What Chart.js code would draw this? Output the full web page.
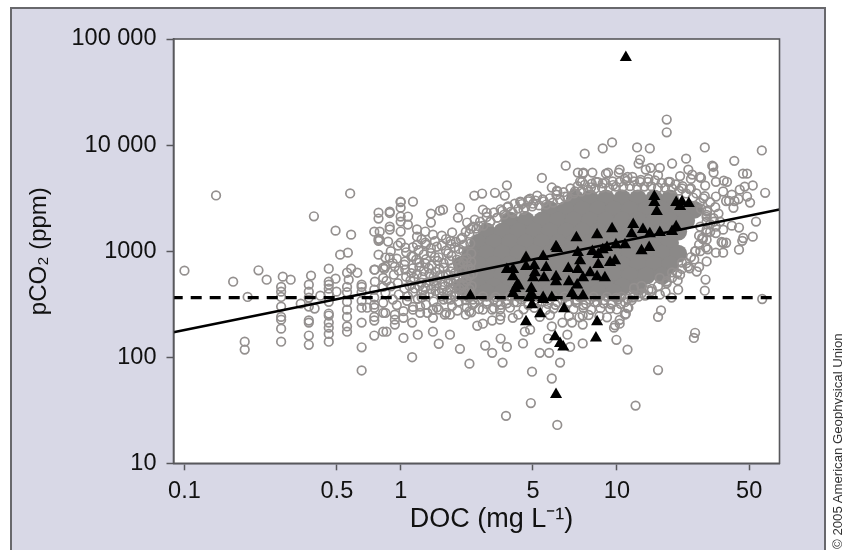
<!DOCTYPE html>
<html>
<head>
<meta charset="utf-8">
<script src="https://cdn.jsdelivr.net/npm/chart.js@4"></script>
<style>
  html, body { margin: 0; padding: 0; background: #fff; width: 843px; height: 550px; overflow: hidden; }
  #panel { position: absolute; left: 10px; top: 7px; width: 812px; height: 560px; background: #d8d8e6; border: 2px solid #68686c; }
  #chart { position: absolute; left: 0; top: 0; }
  #credit { position: absolute; left: 830px; top: 549px; font: 13.2px "Liberation Sans", Arial, sans-serif; color: #333;
    transform: rotate(-90deg); transform-origin: 0 0; white-space: nowrap; }
</style>
</head>
<body>
<div id="panel"></div>
<canvas id="chart" width="843" height="550"></canvas>
<div id="credit">© 2005 American Geophysical Union</div>
<script>
// axis limits and ticks
// the printed DOC axis is not evenly log spaced, 5 and 50 sit left of where a true log axis has them,
// so the tick values below are where those printed labels land
const docMin = 0.089
const docMax = 56.5
const docTicks = [0.1, 0.507, 1, 4.09, 10, 40.9]
const docTickLabels = ['0.1', '0.5', '1', '5', '10', '50']
const pco2Ticks = [10, 100, 1000, 10000, 100000]
const pco2TickLabels = ['10', '100', '1000', '10 000', '100 000']

// the two lines
const fitDoc = [0.089, 56.5]
const fitPco2 = [172, 2470]
const airDoc = [0.089, 56.5]
const airPco2 = [365, 365]

// solid part of the cloud, too many rings to read one by one: [pCO2, [DOC...]]
const denseRows = [
  [3130, [6.4, 7.5, 8.9, 10.6, 12.5, 14.9, 17.6]],
  [2460, [4.9, 5.8, 6.9, 8.2, 9.7, 11.5, 13.7, 16.2, 19.2, 22.8]],
  [1940, [3.2, 3.8, 4.5, 5.35, 6.3, 7.5, 8.9, 10.6, 12.5, 14.9, 17.6, 20.9]],
  [1530, [2.5, 2.95, 3.5, 4.15, 4.9, 5.85, 6.9, 8.2, 9.7, 11.5, 13.7, 16.2, 19.2]],
  [1200, [2.28, 2.7, 3.2, 3.8, 4.5, 5.35, 6.3, 7.5, 8.9, 10.6, 12.5, 14.9, 17.6]],
  [947, [2.1, 2.5, 2.95, 3.5, 4.15, 4.9, 5.85, 6.9, 8.2, 9.7, 11.5, 13.7, 16.2, 19.2]],
  [746, [1.92, 2.28, 2.7, 3.2, 3.8, 4.5, 5.35, 6.3, 7.5, 8.9, 10.6, 12.5, 14.9, 17.6]],
  [587, [2.1, 2.5, 2.95, 3.5, 4.15, 4.9, 5.85, 6.9, 8.2, 9.7, 11.5, 13.7, 16.2]],
  [462, [1.92, 2.28, 2.7, 3.2, 3.8, 4.5, 5.35, 6.3, 7.5, 8.9, 10.6, 12.5]],
  [406, [2.1, 2.5, 2.95, 3.5, 4.15, 4.9, 5.85, 6.9, 8.2, 9.7]]
]

// open circles, [DOC, pCO2]
const lowDocRings = [
  [0.14,3350],[0.584,3500],[0.397,2130],[0.5,1560],[0.59,1430],[0.525,927],[0.57,968],[0.1,655],
  [0.168,515],[0.22,660],[0.24,538],[0.285,575],[0.31,538],[0.28,460],[0.28,370],[0.196,370],[0.28,415],
  [0.28,300],[0.28,240],[0.28,226],[0.28,186],[0.28,140],[0.19,140],[0.19,118],
  [0.385,588],[0.376,483],[0.376,415],[0.376,365],[0.376,300],[0.4,288],[0.345,320],[0.425,380],
  [0.376,222],[0.376,212],[0.376,160],[0.376,131],
  [0.465,683],[0.465,515],[0.465,483],[0.465,443],[0.465,397],[0.5,550],[0.505,415],[0.465,333],
  [0.465,258],[0.465,247],[0.465,212],[0.465,190],[0.465,166],[0.465,140],
  [0.565,626],[0.59,683],[0.63,626],[0.575,538],[0.565,460],[0.565,410],[0.565,333],[0.565,281],
  [0.565,240],[0.565,195],[0.565,174],[0.66,212],[0.66,124],[0.66,75],[0.66,483],[0.66,460],
  [0.66,410],[0.66,340],[0.66,293],[0.7,293],[0.755,669],[0.76,515],[0.755,433],[0.755,365],
  [0.755,313],[0.755,293],[0.755,240],[0.755,222],[0.755,160],[0.83,174],[0.83,262],[0.83,326],
  [0.83,460],[0.83,560],[0.83,700],[0.755,1525],[0.8,1525],[0.79,2310],[0.79,2030],[0.79,1310],
  [0.79,1250],[0.79,927]
]
const cloudRings = [
  [0.97,1130],[1.14,1090],[1.31,1150],[1.47,1100],[1.71,1170],[0.9,1000],[1.06,975],[1.21,1020],[1.38,960],[1.62,1010],[1.86,1050],
  [0.85,870],[0.96,850],[1.12,890],[1.31,840],[1.5,875],[1.72,900],[2.02,860],[0.92,770],[1.04,745],[1.22,780],[1.39,735],[1.58,770],[1.86,750],[2.12,790],
  [0.84,680],[0.98,655],[1.14,690],[1.28,650],[1.51,680],[1.7,645],[1.98,670],[0.93,600],[1.06,575],[1.19,610],[1.42,570],[1.62,600],[1.83,570],[2.15,610],
  [0.86,525],[0.97,500],[1.11,530],[1.32,505],[1.47,530],[1.75,495],[2.02,525],[0.9,465],[1.04,445],[1.22,470],[1.38,440],[1.6,465],[1.87,440],[2.13,470],
  [0.85,405],[0.98,390],[1.14,410],[1.29,385],[1.51,405],[1.71,385],[1.98,410],[0.92,350],[1.07,340],[1.2,355],[1.42,335],[1.58,350],[1.85,335],[2.16,350],
  [0.96,310],[1.14,298],[1.31,312],[1.47,295],[1.73,305],[2.02,295],[1.03,272],[1.23,262],[1.41,281],[1.62,262],[1.83,275],[2.12,265],
  [0.89,2290],[1,2900],[1.05,1080],[0.89,868],[0.85,715],[0.94,715],[1.05,800],[1.14,890],[0.76,669],[1.05,669],[1.14,281]
]
// thicker part of the left cloud, where the rings start to close up
const cloudRingsInner = [
  [1.25,1290],[1.44,1240],[1.62,1300],[1.8,1220],[1.96,1150],[2.1,1180],[1.55,1130],[1.38,1070],[1.78,1090],[1.95,1000],[2.12,950],
  [1.28,930],[1.44,880],[1.66,950],[1.82,830],[1.95,790],[2.05,720],[1.18,830],[1.3,765],[1.48,810],[1.68,820],[1.74,700],[1.92,640],[2.1,680],
  [1.22,710],[1.35,690],[1.45,640],[1.58,700],[1.66,590],[1.78,620],[1.95,560],[2.08,585],[1.12,620],[1.26,570],[1.36,610],[1.52,595],[1.7,540],
  [1.15,560],[1.25,505],[1.42,520],[1.56,485],[1.66,510],[1.8,525],[1.95,480],[2.08,440],[1.1,470],[1.3,450],[1.46,470],[1.7,440],[1.8,470],
  [1.16,445],[1.27,425],[1.45,420],[1.55,430],[1.64,410],[1.8,405],[1.92,380],[2.1,400],[1.08,375],[1.25,365],[1.36,400],[1.55,375],[1.65,355]
]
const lowerRings = [
  [0.86,174],[0.94,203],[0.94,226],[1.03,152],[1.13,100],[1.2,163],[1.03,235],[1.13,212],[0.85,262],[0.94,252],
  [1.41,174],[1.5,134],[1.69,163],[1.88,120],[2.08,87],[2.26,198],[2.4,207],[2.46,129],[2.65,110],[2.9,150],
  [3.1,125],[2.96,89],[3.68,135],[3.75,174],[3.97,182],[4.4,110],[4.86,110],[4.05,73],[5.46,89],[5,63],
  [4,37],[3.07,28],[5.3,23],[4.8,150],[5,195],[6.08,125],[6.95,135],[5.6,212],[6.2,212],[5.9,163],
  [6.95,203],[6.95,247],[9.95,146],[9.7,190],[10.3,207],[11.2,118],[15.5,75.7],[12.2,35],[22.7,152],[47,354],
  [25.5,424],[19.2,433],[17.9,365],[15.5,240],[16,276],[11,257],[11.3,293],[11.8,365],[9.95,365],[9.3,288],[15.8,389],
  [1.33,262],[1.41,235],[1.5,281],[1.41,281],[1.69,252],[1.6,252],[2,252],[2.08,270],[2.4,281],[2.65,281],
  [2.88,281],[2.65,222],[2.88,226],[3.3,235],[3.5,252],[3.2,293],[1.23,300],
  [2.2,325],[2.5,318],[2.8,330],[3.1,322],[3.45,330],[3.9,320],[4.3,328],[4.8,318],[5.3,330],[5.9,322],[6.5,328],[7.2,320],[7.9,330],[8.7,322],[9.5,326],[10.4,318],
  [2.3,285],[2.7,290],[3.7,283],[4.15,292],[4.7,280],[5.1,288],[6.3,284],[7,292],[7.6,280],[8.4,290],[10,282],
  [2.9,245],[4.4,240],[4.9,250],[6,245],[6.7,238],[7.4,250],[8.3,244],[9,238]
]
const bottomBand = [
  [1.7,350],[1.85,330],[2,345],[2.15,312],[2.3,350],[2.5,335],[2.7,350],[2.9,312],[3.1,345],[3.35,330],[3.6,352],[3.9,310],
  [4.2,350],[4.5,335],[4.85,348],[5.2,312],[5.6,350],[6,332],[6.5,348],[7,310],[7.5,350],[8.1,330],[8.7,345],[9.4,315],
  [10.1,350],[10.9,330],[11.7,345],[1.78,372],[2.05,368],[2.4,375],[2.75,370],[3.2,375],[3.7,368],[4.3,372],[5.05,368],
  [5.75,375],[6.7,370],[7.8,372],[9,370],[10.5,372],[11.2,355],[12.6,372],[13.4,390],[14.4,420]
]
const upperRings = [
  [3.1,4170],[3.03,3340],[2.73,3550],[2.38,3490],[2.19,3340],[1.88,2570],[1.57,2460],[1.52,2410],[1.38,2260],[1.38,1860],
  [1.14,2930],[1,2930],[1,2570],[0.89,2360],[1.08,2120],[1,2120],[1,1900],[0.89,1700],[0.89,1600],[1,1530],
  [1.08,1780],[1.19,1600],[1.3,1530],[1.19,1370],[1,1200],[0.875,1230],[0.8,1280],[1.19,1150],[1.3,1200],
  [1.41,1430],[1.73,1500],[1.84,2070],[2.03,1860],[2.2,1980],[2.4,2460],[2.5,2310],[2.8,2070],[3.14,2640],
  [3.57,2930],[3.97,3130],[4.28,3340],[5,3980],[5.28,3720],[5.75,3270],[6.4,3650],[6.76,4530],[6.97,5390],
  [1.55,1400],[1.7,1250],[1.9,1300],[2.1,1620],[2.3,1720],[2.6,1900],[2.95,2400],[3.3,2300],[3.7,2450],[4.1,2800],[4.6,2950],
  [17,17400],[17,13200],[46.8,8900],[25.5,9500],[14.2,9300],[12.4,9500],[9.5,10600],[8.6,9300],[7.1,8300],[5.8,6400],[4.5,4900],
  [20.9,7450],[34.9,7100],[27.6,6400],[27.9,6250],[12.8,7300],[12.6,6700],[18,6700],[15.8,6100],[14.3,6100],[13.6,5870],[21.4,5870],
  [28,5500],[38.3,5380],[40,5380],[24.2,5000],[22.3,5270],[10.3,5870],[10.2,5500],[9.1,5500],[8.9,5380],[7.7,5500],[7,5500],[6.6,5500],
  [6.9,4500],[11.2,5000],[8,4500],[5.3,3650],[3.9,3060],[3.6,2900],
  [7.6,4000],[8.6,4350],[9.6,4200],[10.9,4800],[11.8,5000],[12.8,4500],[14,4800],[15.5,5200],[17.6,4500],[19.6,5100],[22,4800],[24.5,4900],
  [20,3900],[22,3900],[25.6,4150],[28.7,4500],[31.2,4620],
  [32.3,4500],[42.5,4160],[48.5,3550],[37,3800],[39,4060],[35,2970],[41.3,2870],[40,3270],[31,3650],[28.7,3270],[34,3410],[32,2970],[34.6,2560],
  [25.5,3300],[27,2900],[28.5,2600],[33,2980],[36.5,3100],[44,1900],[42.5,1370],[38.4,1330],[38,1250],[36.7,1033],[36.7,1670],[34,1740],[31,1595],
  [28.7,1700],[32,1200],[31,968],[28.7,968],[26,800],[26,1283],[28.7,1480],[26,1595],[31,1200],[23.4,643],[21.3,715],
  [26,2200],[28,2050],[30,1900],[26,1900],[24.3,1700],[24.8,1330],[25.8,1080],[24.3,1000],[23.1,1000],[26.2,2420],[29.5,2260]
]
// rings sitting on the top edge of the solid part
const topEdgeRings = [
  [1.93,1340],[2.08,1460],[2.24,1630],[2.41,1740],[2.6,1900],[2.8,2070],[3.01,2210],[3.24,2360],[3.5,2520],[3.77,2570],
  [4.06,2640],[4.37,2700],[4.71,2750],[5.07,2870],[5.46,3060],[5.89,3270],[6.34,3500],[6.83,3650],[7.36,3800],[7.93,3900],
  [8.54,3970],[9.2,3970],[9.9,4060],[10.7,4060],[11.5,4100],[12.4,4020],[13.4,4060],[14.4,4100],[15.5,3970],[16.7,3970],
  [18,3900],[19.4,3720],[20.9,3500],[22.5,3200],[24.2,2870],[26.1,2360],[28.1,1900],
  [2,1520],[2.16,1700],[2.33,1900],[2.5,2100],[2.7,2320],[2.9,2480],[3.12,2600],[3.37,2800],[3.63,2780],[3.9,2950],
  [4.2,3000],[4.54,3080],[4.9,3150],[5.25,3400],[5.67,3600],[6.1,3900],[6.58,4100],[7.1,4220],[7.65,4320],[8.2,4480],
  [8.85,4400],[9.55,4550],[10.3,4500],[11.1,4600],[12,4550],[12.9,4700],[13.9,4500],[15,4650],[16.1,4400],[17.3,4500],
  [18.7,4250],[20.1,4100],[21.7,3850],[23.3,3500],[25.1,3150]
]
const rimRings = [
  [26.3,1040],[24,710],[25.7,540],[19.1,530],[15.8,560],[13,470],[11.9,385],[11.2,290],[10.9,252],[10.3,225],[9.8,200],[23,170],
  [27,1520],[30.5,1220],[24,1400],[20,780],[18,630],[17,500],[14.5,440],[16.8,410],[13.5,380],[12,450],[21.7,690],[22.8,835],[19.6,600],
  [24.5,2500],[26,2100],[27,1800],[26,1500],[25,1300],[24,1150],[23,1000],[22,880],[21,770],[20,680],[19,620],[18,560],[17,520],[15.5,470],[14,430],[13,400],[12,370]
]

// black triangles, [DOC, pCO2]
const triangles = [
  [11,66800],[14.9,3270],[14.9,2870],[15.3,2360],[18.8,2870],[20,2930],[21.5,2810],[19.6,2640],
  [11.9,1780],[11.7,1460],[13.2,1600],[14.2,1460],[15.8,1500],[18,1530],[18.8,1700],
  [9.5,1630],[8.1,1430],[6.5,1340],[5.23,1100],[5.29,1060],[10.9,1150],[9.9,1150],[9,1080],[8.6,1030],
  [7.7,990],[6.6,970],[13,1010],[14.1,1080],[9.8,810],[9.3,780],[8.2,930],[8.2,750],[6.76,810],
  [4.56,890],[3.8,870],[3.8,715],[4.15,730],[4.71,700],[3.1,670],[3.31,670],[3.31,575],[4.18,625],
  [4.1,560],[4.6,560],[5.23,575],[5.23,515],[5.96,685],[6.6,670],[7.52,625],[8.1,575],[8.8,560],
  [6.97,560],[6,515],[6.55,480],[3.46,480],[3.39,445],[3.31,398],[4.02,445],[3.93,365],[4.05,313],
  [4.56,350],[5,365],[6.2,398],[6.97,380],[5.7,286],[4.42,257],[3.8,216],[8.1,216],[8,152],
  [5.18,156],[5.46,135],[5.65,125],[5.23,44.5],[2.1,380],[4.05,389],[4.56,365],[3.52,470]
]

function toPoints(list) {
  return list.map(p => ({ x: p[0], y: p[1] }))
}

let densePoints = []
denseRows.forEach(row => {
  row[1].forEach(doc => densePoints.push({ x: doc, y: row[0] }))
})

let ringPoints = toPoints([...lowDocRings, ...cloudRings, ...cloudRingsInner, ...lowerRings, ...bottomBand, ...upperRings, ...topEdgeRings, ...rimRings])
let fitLine = fitDoc.map((d, i) => ({ x: d, y: fitPco2[i] }))
let airLine = airDoc.map((d, i) => ({ x: d, y: airPco2[i] }))

const ink = '#111'
const frame = '#58585c'
const cloud = '#8b8988'
const tickFont = { family: '"Liberation Sans", Arial, sans-serif', size: 23.5 }
const titleFont = { family: '"Liberation Sans", Arial, sans-serif', size: 27 }

// white plot area with a frame on all four sides
const plotFrame = {
  id: 'plotFrame',
  beforeDraw(chart) {
    let a = chart.chartArea
    let c = chart.ctx
    c.save()
    c.fillStyle = '#fff'
    c.fillRect(a.left, a.top, a.right - a.left, a.bottom - a.top)
    c.restore()
  },
  afterDraw(chart) {
    let a = chart.chartArea
    let c = chart.ctx
    c.save()
    c.strokeStyle = frame
    c.lineWidth = 1.6
    c.strokeRect(a.left, a.top, a.right - a.left, a.bottom - a.top)
    c.restore()
  }
}

new Chart(document.getElementById('chart'), {
  type: 'scatter',
  data: {
    datasets: [
      { label: 'dense', data: densePoints, order: 5, pointRadius: 9, pointBorderWidth: 0, pointBackgroundColor: cloud },
      { label: 'rings', data: ringPoints, order: 4, pointRadius: 4.3, pointBorderWidth: 1.7, pointBorderColor: '#94908f', pointBackgroundColor: 'rgba(0,0,0,0)' },
      { label: 'air', data: airLine, order: 3, showLine: true, pointRadius: 0, borderColor: '#000', borderWidth: 3.2, borderDash: [11, 8], borderDashOffset: 1.8 },
      { label: 'fit', data: fitLine, order: 2, showLine: true, pointRadius: 0, borderColor: '#000', borderWidth: 2.5 },
      { label: 'triangles', data: toPoints(triangles), order: 1, pointStyle: 'triangle', pointRadius: 7, pointBorderWidth: 0, pointBackgroundColor: '#000' }
    ]
  },
  options: {
    responsive: false,
    animation: false,
    layout: { padding: { left: 0, top: 39, right: 63.5, bottom: 0 } },
    plugins: { legend: { display: false }, tooltip: { enabled: false } },
    scales: {
      x: {
        type: 'logarithmic',
        min: docMin,
        max: docMax,
        afterBuildTicks: axis => { axis.ticks = docTicks.map(v => ({ value: v })) },
        afterFit: axis => { axis.height = 86.7 },
        grid: { drawOnChartArea: false, drawTicks: true, tickLength: 7, tickWidth: 1.5, tickColor: frame },
        border: { color: frame, width: 1.6 },
        ticks: {
          autoSkip: false, maxRotation: 0, color: ink, font: tickFont, padding: 7,
          callback: (v, i) => docTickLabels[i]
        },
        // leading no-break spaces push the centred title right, it sits right of the plot centre in the original
        title: { display: true, text: '\u00a0\u00a0\u00a0\u00a0DOC (mg L⁻¹)', color: ink, font: titleFont, padding: { top: 0, bottom: 14 } }
      },
      y: {
        type: 'logarithmic',
        min: 10,
        max: 100000,
        afterBuildTicks: axis => { axis.ticks = pco2Ticks.map(v => ({ value: v })) },
        afterFit: axis => { axis.width = 173.5 },
        grid: { drawOnChartArea: false, drawTicks: true, tickLength: 7, tickWidth: 1.5, tickColor: frame },
        border: { color: frame, width: 1.6 },
        ticks: {
          autoSkip: false, color: ink, font: tickFont, padding: 10,
          callback: (v, i) => pco2TickLabels[i]
        },
        title: { display: true, text: 'pCO₂ (ppm)', color: ink, font: { family: titleFont.family, size: 24 }, padding: { top: 25, bottom: 0 } }
      }
    }
  },
  plugins: [plotFrame]
})
</script>
</body>
</html>
